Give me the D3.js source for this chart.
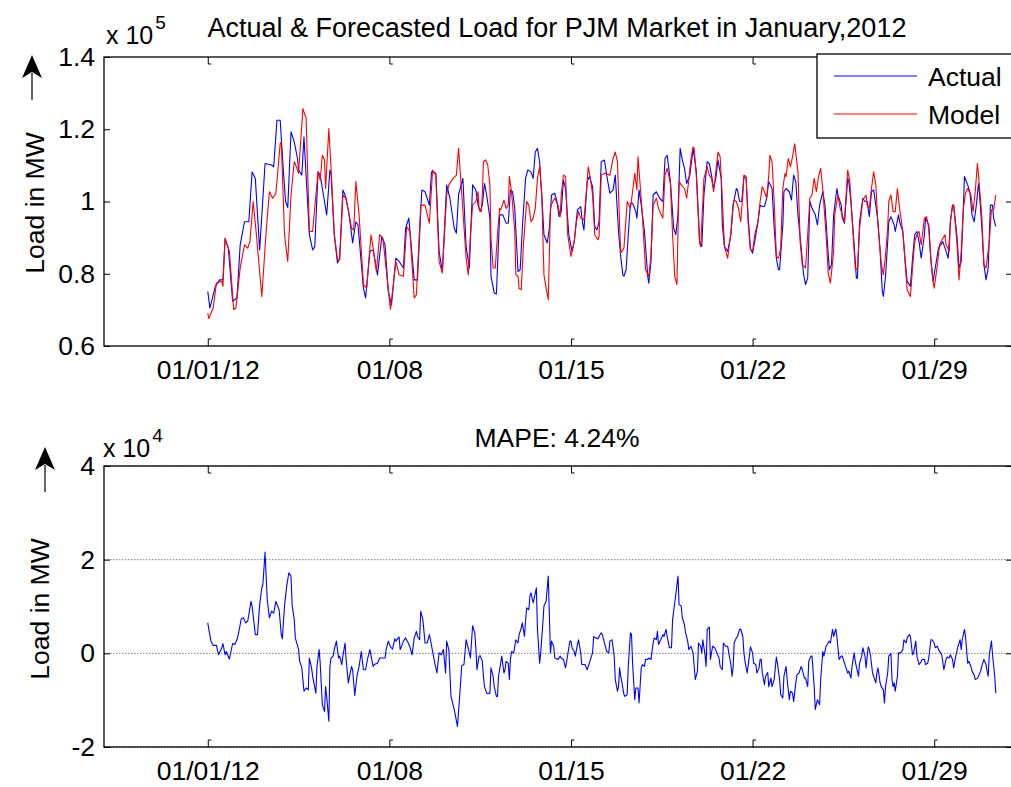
<!DOCTYPE html>
<html>
<head>
<meta charset="utf-8">
<script src="https://cdn.jsdelivr.net/npm/d3@7"></script>
<style>
  body { margin: 0; background: #fff; }
  svg { display: block; }
  text { font-family: Arial, "Liberation Sans", Helvetica, sans-serif; fill: #000; }
</style>
</head>
<body>
<svg id="chart" width="1011" height="787"></svg>
<script>
// Hourly PJM load, January 2012. Hours are counted from 2012-01-01 00:00.
// Loads are in thousands of MW.
const actualHour = [0,2,7,11,14,16,19,23,27,30,34,38,41,44,48,53,59,61,64,67,70,72,74,77,80,83,84,87,89,94,97,99,102,104,107,110,113,114,117,120,122,125,127,130,132,134,137,139,144,146,150,153,157,161,164,167,170,174,177,181,183,186,191,194,198,201,205,207,211,214,217,221,224,228,230,232,236,239,242,245,248,250,252,254,256,258,261,262,265,267,268,270,273,276,278,280,282,284,287,289,291,294,296,299,301,303,305,307,309,311,314,316,318,321,323,325,327,329,331,334,337,339,342,345,347,348,351,353,356,358,360,362,364,367,369,372,375,377,380,382,384,385,387,389,391,393,396,397,399,401,404,407,408,410,412,415,418,421,423,425,428,431,433,435,437,439,441,443,446,449,452,455,457,459,462,464,466,468,470,472,475,476,478,481,484,486,489,490,492,494,496,498,500,502,504,506,509,511,513,515,517,519,522,524,526,528,529,532,533,535,538,540,542,544,546,549,551,553,555,557,559,562,564,566,569,571,573,575,577,579,582,583,586,587,589,592,593,595,598,600,601,603,606,608,610,612,614,616,618,620,622,624,625,627,629,630,632,635,636,639,640,643,645,647,650,652,654,656,658,660,663,664,667,669,671,673,676,678,680,683,685,687,689,690,693,695,697,699,700,703,705,707,709,711,713,714,716,718,720,722,724,726,727,729];
const actualLoad = [75.1,70.5,76.5,78.3,78.3,89.7,87.1,72.4,73.3,88.0,94.4,94.4,108.2,106.4,86.6,110.5,110.1,109.6,122.5,122.5,108.2,100.0,98.3,119.3,116.5,111.9,108.7,107.3,117.9,90.8,86.6,87.5,108.2,107.3,101.8,96.3,108.7,107.8,90.8,83.0,84.3,103.2,101.8,97.7,93.5,88.5,94.4,93.5,76.0,73.3,86.2,86.6,79.7,90.3,88.0,75.1,71.4,84.3,83.4,81.6,92.6,95.4,78.3,78.3,103.2,102.7,99.0,108.2,107.8,86.2,80.6,104.6,100.9,92.6,91.2,101.8,106.4,87.5,81.6,104.6,103.2,99.0,97.2,99.0,105.0,101.8,95.4,79.3,74.7,74.4,81.6,96.3,96.3,94.0,94.0,103.2,102.7,98.1,80.6,81.1,92.6,106.4,108.7,108.2,106.4,113.7,114.7,111.0,101.8,90.8,88.5,92.6,101.8,102.3,100.0,95.8,97.2,105.9,103.6,90.8,86.2,88.9,97.7,98.6,93.5,92.1,105.5,106.9,104.1,93.1,92.1,94.4,111.0,111.5,107.3,102.3,103.2,107.3,91.7,84.8,79.7,79.3,81.1,90.8,99.5,99.5,97.2,95.4,103.2,99.0,91.7,79.3,77.4,83.4,101.8,102.7,100.9,100.0,111.9,112.8,105.5,92.6,90.8,96.3,114.7,111.5,109.2,105.0,107.3,114.7,108.2,88.9,87.5,101.8,111.0,110.5,107.3,103.6,106.4,111.5,106.4,93.5,87.5,86.2,90.8,99.0,103.6,103.2,100.0,100.0,106.9,106.4,95.4,87.1,85.7,88.9,94.4,99.0,98.6,98.6,100.9,105.5,103.6,92.6,84.3,81.1,81.1,93.5,102.7,103.6,102.7,100.4,107.3,105.5,96.3,87.1,80.2,77.0,78.8,100.0,98.1,96.3,93.5,99.0,102.7,99.0,89.8,81.1,82.5,96.3,103.6,101.8,99.0,95.4,94.0,106.4,105.5,100.0,88.0,78.8,78.8,94.4,100.9,100.0,100.0,95.8,102.7,103.2,99.0,94.4,86.2,75.1,73.7,79.3,88.9,94.4,95.8,93.5,91.7,96.3,94.4,91.7,84.3,77.9,76.5,84.3,90.8,91.7,88.9,84.3,90.8,95.4,93.5,83.9,77.9,81.6,87.1,88.0,88.9,86.2,84.3,94.4,99.0,99.0,90.8,81.6,83.4,98.1,106.9,104.6,102.7,96.3,94.4,99.0,105.0,101.8,93.5,82.5,78.3,81.6,99.0,99.0,95.4,93.1];

const modelHour = [0,1,5,8,13,14,16,20,24,26,30,34,37,39,42,45,50,54,57,60,63,67,68,71,74,77,80,82,84,88,91,94,97,102,104,106,108,109,112,114,117,120,122,125,128,133,135,137,140,144,147,151,153,156,159,162,169,174,177,181,184,187,191,193,197,201,205,208,211,214,217,221,223,227,230,232,234,239,241,243,245,248,250,251,253,254,255,257,259,261,262,264,266,268,270,271,274,276,278,279,281,284,285,287,288,290,292,295,297,299,301,303,305,307,309,311,313,315,317,319,321,324,326,327,329,331,333,336,339,341,343,345,348,350,352,354,356,358,361,362,364,367,372,375,377,379,381,382,385,388,391,393,395,397,398,400,402,405,408,410,412,415,417,419,421,423,425,428,430,432,434,436,438,441,443,445,447,449,450,452,455,456,459,462,464,466,468,470,472,474,476,478,481,484,486,487,489,491,493,495,496,498,500,502,504,506,509,511,513,515,517,519,520,522,524,526,528,530,532,534,535,537,539,541,543,546,548,550,553,555,557,559,561,563,565,567,569,572,574,576,579,580,583,585,587,589,592,594,596,599,601,603,606,609,610,612,614,616,618,620,623,625,627,629,630,632,634,636,638,640,643,645,647,650,652,654,656,658,660,663,665,667,669,671,672,675,677,680,682,683,686,687,689,690,693,695,697,699,701,703,706,708,710,712,713,716,718,720,723,725,727,729];
const modelLoad = [69.1,67.6,70.5,77.4,77.9,76.5,89.8,86.2,70.1,70.5,81.6,88.0,87.1,88.9,100.0,90.8,73.7,91.7,102.7,100.9,102.3,116.0,116.5,90.8,83.4,101.8,111.0,109.6,107.8,125.7,123.0,91.7,91.7,108.2,105.9,112.8,111.5,103.6,120.2,109.6,91.2,83.9,83.9,101.8,100.9,92.6,92.1,105.5,96.3,77.0,76.0,90.8,87.1,80.6,90.8,89.8,70.1,83.4,79.7,79.3,93.1,91.7,73.3,74.2,99.0,99.0,94.0,108.7,107.3,83.4,80.2,101.8,104.6,106.4,107.3,114.7,106.4,84.3,79.7,90.8,99.0,100.0,102.7,98.1,97.2,101.8,111.0,111.5,110.1,104.6,89.8,81.6,81.6,90.8,98.1,97.7,100.4,98.1,99.0,106.9,102.7,91.7,79.7,79.3,76.0,75.6,88.0,100.0,99.0,94.4,95.4,98.1,106.4,109.6,101.8,79.7,76.0,72.8,98.1,100.0,100.9,99.0,95.8,101.8,107.3,106.9,90.8,84.8,88.9,94.4,97.2,95.4,94.9,101.8,109.6,106.4,101.8,90.8,89.4,90.3,107.3,107.8,107.3,111.9,113.7,111.0,93.5,85.7,87.1,100.0,98.1,102.7,107.8,103.2,112.4,104.6,96.3,81.1,79.3,85.2,99.0,100.9,98.1,96.7,95.4,107.3,109.2,105.0,90.8,79.3,77.0,105.5,104.6,103.6,100.9,105.9,111.9,115.1,114.7,106.9,88.5,87.5,106.4,109.6,107.3,106.4,102.7,108.2,113.7,112.4,100.9,87.5,84.3,91.7,99.0,100.4,100.0,98.1,94.4,101.8,107.3,106.9,93.5,86.6,86.2,90.8,94.4,100.0,104.1,102.7,100.9,107.3,112.8,111.0,100.0,84.8,84.3,87.1,103.6,107.8,106.9,111.9,109.6,112.4,116.0,108.2,88.9,82.5,81.6,90.8,100.9,101.8,106.4,102.7,106.9,109.2,103.2,90.8,80.2,77.4,86.2,96.3,101.8,98.1,96.3,94.4,108.7,105.5,95.4,81.6,81.1,92.6,100.4,101.8,99.0,98.1,103.6,108.2,104.6,93.5,83.0,79.7,85.2,92.6,100.0,101.8,97.2,97.2,103.6,98.1,91.7,83.4,75.6,73.7,81.6,88.9,90.8,91.7,88.0,95.4,95.8,92.6,83.4,77.9,76.0,82.5,88.0,89.8,90.8,88.0,86.2,94.4,99.0,99.0,88.9,78.3,86.2,98.1,102.3,103.6,101.8,97.2,102.7,110.5,107.3,96.3,82.5,81.6,88.9,97.7,97.7,101.8];

// Forecast error (actual minus model), thousands of MW
const errorHour = [0,1,3,5,8,10,13,14,16,17,20,23,25,27,29,31,33,35,37,40,41,44,46,48,50,51,53,55,57,59,61,63,66,68,69,71,73,75,77,78,80,81,84,85,87,89,91,93,94,96,97,100,101,103,104,106,108,109,110,112,113,114,116,117,119,121,122,124,125,127,128,130,133,134,136,138,140,142,144,146,148,150,152,153,154,157,159,161,164,165,167,169,171,173,174,177,178,181,183,185,187,189,191,193,194,196,197,199,201,203,205,206,208,210,212,214,216,218,220,221,223,225,228,231,233,235,237,239,242,243,245,247,248,249,251,252,254,255,256,258,259,261,262,264,265,267,268,269,271,272,274,275,276,278,279,280,281,283,285,287,288,290,291,293,294,295,297,298,299,301,302,304,305,307,308,310,311,313,315,316,317,318,320,321,324,326,327,329,331,333,335,336,337,339,340,342,343,345,346,348,349,351,353,355,356,357,359,361,362,364,365,367,369,371,372,374,376,377,379,380,381,382,383,385,386,388,389,391,392,393,395,396,398,399,401,402,404,405,407,408,410,412,413,415,416,417,419,421,422,424,425,427,429,430,432,433,435,436,438,439,441,442,444,445,447,449,450,451,453,454,456,457,458,460,461,462,464,465,467,469,471,473,474,476,477,479,481,482,484,485,486,487,489,490,492,493,495,496,497,499,500,501,502,504,505,507,508,510,511,512,513,515,516,518,519,521,522,524,526,527,529,530,532,533,535,536,538,539,541,542,544,545,547,549,550,552,553,555,556,558,559,561,562,564,566,567,569,570,572,573,575,576,578,579,581,582,584,586,587,589,590,592,593,595,596,598,599,600,602,603,605,606,608,609,611,612,613,615,616,618,619,620,622,623,625,626,627,629,630,632,633,634,635,636,638,639,641,643,644,646,647,649,650,652,653,655,656,658,659,661,663,664,666,667,669,670,672,673,675,676,678,679,681,683,684,686,687,689,690,692,693,694,696,697,698,700,701,703,704,706,707,709,710,712,713,715,716,718,720,721,722,723,725,726,728,729];
const errorLoad = [6.5,5.1,2.6,1.7,1.7,-0.3,1.2,2.1,-0.3,0.4,-1.2,2.1,1.9,2.9,4.9,7.4,7.6,6.5,6.9,11.1,10.1,4.0,4.0,10.4,14.0,14.7,21.6,11.5,7.6,9.0,8.6,11.1,9.3,4.0,3.1,10.1,14.3,17.2,16.5,10.4,7.2,3.3,0.8,-1.7,-3.1,-8.1,-7.4,-7.8,-1.0,-3.1,-4.9,-8.5,-2.8,0.8,-2.1,-11.0,-12.4,-7.1,-9.2,-14.5,-2.8,-1.0,-0.6,0.8,2.6,-1.0,-0.6,-2.4,-0.6,2.2,-1.3,-6.3,-2.8,-3.5,-9.0,-4.9,-2.8,0.4,-3.5,-3.5,-1.0,0.8,-1.7,-2.8,-2.4,-2.1,-1.0,-1.0,-1.0,0.8,2.6,1.4,0.9,3.1,2.6,3.5,0.8,2.6,3.3,2.4,1.4,-0.3,3.3,4.7,3.6,2.9,9.0,7.2,2.2,2.2,4.0,2.9,0.4,-2.1,-4.2,0.1,-0.3,0.8,-4.2,2.6,0.8,-9.2,-12.0,-15.6,-9.2,-2.6,-2.4,2.9,0.1,-1.0,5.9,4.4,1.2,-3.5,-0.6,-0.5,-1.7,-4.9,-7.1,-8.5,-8.6,-8.5,-3.1,-4.9,-7.1,-9.2,-9.2,-4.9,-2.1,-0.6,-4.2,-3.5,-1.7,-2.1,-5.6,-1.3,0.4,0.1,2.9,2.2,4.0,5.4,6.5,3.6,6.9,9.7,9.3,12.2,12.9,10.8,11.8,14.0,5.1,-2.1,0.1,6.5,10.1,11.1,16.5,8.3,0.1,2.6,1.5,-1.0,-1.3,-0.6,-1.0,-1.3,-3.1,-0.3,2.6,2.6,1.2,0.4,-0.6,1.9,2.9,0.1,-2.4,-2.4,-2.4,-3.5,-2.1,-0.6,0.1,3.6,3.3,3.1,3.6,4.4,4.0,2.2,0.4,0.1,2.6,2.9,-0.6,-5.6,-8.1,-7.1,-3.1,-4.9,-6.0,-8.8,-9.2,-8.8,-2.8,4.4,4.0,-2.1,-9.9,-7.4,-7.4,-10.6,-3.1,-2.4,-2.8,-1.3,-1.3,-1.0,-1.3,2.2,3.3,2.9,4.7,1.9,2.9,4.0,3.6,5.1,3.6,1.2,1.2,7.2,10.8,12.6,16.5,10.4,10.1,7.6,6.1,4.4,2.6,0.8,1.5,0.1,-2.8,-5.6,-3.8,2.2,1.5,0.1,2.9,-0.3,-2.8,5.1,5.6,-1.3,1.5,1.2,0.1,-1.0,-2.8,-3.5,2.2,1.5,1.5,0.1,-2.4,-4.9,-3.1,2.2,3.3,3.6,5.1,5.2,3.6,0.1,-1.7,-4.2,-2.4,-0.6,1.4,0.1,-2.1,-2.4,-4.2,-3.1,-1.3,-1.3,-4.2,-6.7,-4.9,-4.1,-7.1,-5.3,-7.1,-5.6,-0.8,-2.1,-5.6,-8.8,-9.5,-4.9,-2.8,-5.6,-9.9,-8.1,-8.5,-10.3,-6.3,-4.6,-4.2,-2.8,-3.5,-5.3,-5.3,-7.1,-1.7,-0.6,-0.6,-7.1,-12.0,-9.9,-11.0,-5.6,0.4,-0.6,1.5,1.9,2.6,2.2,5.1,3.6,5.2,3.6,-1.3,-0.6,-0.6,-2.1,-2.8,-4.2,-3.8,-5.3,-2.8,0.1,-1.7,-2.8,-4.9,-2.1,-0.6,1.2,-0.6,-3.1,1.4,0.8,-0.3,-4.2,-4.9,-6.3,-4.2,-3.1,-6.3,-7.1,-7.8,-10.6,-7.1,-4.2,-0.6,0.0,-5.6,-7.1,-6.3,-8.1,-4.9,0.1,0.1,0.8,2.9,2.2,3.3,4.0,3.6,-0.3,0.1,2.6,-0.6,-2.4,-2.1,-1.3,-1.3,-2.4,-2.1,-1.0,2.9,2.9,2.2,1.2,1.5,0.8,0.1,-0.3,-3.5,-1.3,-0.8,-1.0,-0.3,-1.3,-3.1,-0.6,0.4,1.5,2.9,0.8,2.9,5.1,3.6,-2.1,-1.7,-2.8,-3.8,-4.6,-5.6,-5.3,-4.9,-3.8,-2.8,-1.3,-2.4,-3.8,-4.9,-0.3,2.6,-0.3,-4.9,-8.5];

// Axis ticks
const dateTicks = ["2012-01-01", "2012-01-08", "2012-01-15", "2012-01-22", "2012-01-29"];
const dateTickLabels = ["01/01/12", "01/08", "01/15", "01/22", "01/29"];
const loadTicks = [60, 80, 100, 120, 140];
const loadTickLabels = ["0.6", "0.8", "1", "1.2", "1.4"];
const errorTicks = [-20, 0, 20, 40];
const errorTickLabels = ["-2", "0", "2", "4"];
const seriesNames = ["Actual", "Model"];
const seriesColors = ["#0000ff", "#ff0000"];

const svg = d3.select("#chart");
svg.append("rect").attr("width", 1011).attr("height", 787).attr("fill", "#fff");

const start = Date.UTC(2012, 0, 1);
const toDate = h => new Date(start + h * 3600e3);
const tickDates = dateTicks.map(s => new Date(s + "T00:00:00Z"));

const x = d3.scaleUtc()
  .domain([new Date("2011-12-28T00:00:00Z"), new Date("2012-02-01T00:00:00Z")])
  .range([104, 1012]);

const yTop = d3.scaleLinear().domain([60, 140]).range([346, 57]);
const yBot = d3.scaleLinear().domain([-20, 40]).range([747, 466]);

const FS = 26.5;

function panel(id, y, yTicks, yLabels, grid) {
  const [x0, x1] = x.range();
  const [yb, yt] = y.range();
  const g = svg.append("g");

  svg.append("clipPath").attr("id", id)
    .append("rect").attr("x", x0).attr("y", yt).attr("width", x1 - x0).attr("height", yb - yt);

  if (grid) {
    g.append("g").selectAll("line").data(yTicks).join("line")
      .attr("x1", x0).attr("x2", x1)
      .attr("y1", d => y(d)).attr("y2", d => y(d))
      .attr("stroke", "#7f7f7f").attr("stroke-width", 1)
      .attr("stroke-dasharray", "1.5,1.5");
  }

  // bottom axis with labels
  const ab = g.append("g").attr("transform", `translate(0,${yb})`)
    .call(d3.axisBottom(x).tickValues(tickDates)
      .tickFormat((d, i) => dateTickLabels[i])
      .tickSizeInner(-7).tickSizeOuter(0).tickPadding(14));
  // top axis, ticks only
  const at = g.append("g").attr("transform", `translate(0,${yt})`)
    .call(d3.axisTop(x).tickValues(tickDates).tickFormat("")
      .tickSizeInner(-7).tickSizeOuter(0));
  // left axis with labels
  const al = g.append("g").attr("transform", `translate(${x0},0)`)
    .call(d3.axisLeft(y).tickValues(yTicks)
      .tickFormat((d, i) => yLabels[i])
      .tickSizeInner(-6).tickSizeOuter(0).tickPadding(9));
  // right axis, ticks only
  const ar = g.append("g").attr("transform", `translate(${x1},0)`)
    .call(d3.axisRight(y).tickValues(yTicks).tickFormat("")
      .tickSizeInner(-6).tickSizeOuter(0));

  [ab, at, al, ar].forEach(a => {
    a.select(".domain").remove();
    a.selectAll("line").attr("stroke", "#000").attr("stroke-width", 1);
    a.selectAll("text").attr("font-size", FS)
      .attr("font-family", 'Arial, "Liberation Sans", sans-serif').attr("fill", "#000");
  });

  // short serif at the inner end of each date tick
  ab.selectAll(".tick").append("line")
    .attr("x1", 0).attr("x2", 3).attr("y1", -7).attr("y2", -7)
    .attr("stroke", "#000").attr("stroke-width", 1);
  at.selectAll(".tick").append("line")
    .attr("x1", 0).attr("x2", 3).attr("y1", 7).attr("y2", 7)
    .attr("stroke", "#000").attr("stroke-width", 1);

  g.append("rect").attr("x", x0).attr("y", yt)
    .attr("width", x1 - x0).attr("height", yb - yt)
    .attr("fill", "none").attr("stroke", "#000").attr("stroke-width", 1.3);

  return g;
}

function drawLine(g, clipId, y, hours, values, color) {
  const pts = hours.map((h, i) => [toDate(h), values[i]]);
  g.append("path").datum(pts)
    .attr("clip-path", `url(#${clipId})`)
    .attr("fill", "none").attr("stroke", color).attr("stroke-width", 1.1)
    .attr("stroke-linejoin", "round")
    .attr("d", d3.line().x(d => x(d[0])).y(d => y(d[1])));
}

// ---- Top panel: actual vs model load
const gTop = panel("clipTop", yTop, loadTicks, loadTickLabels, false);
drawLine(gTop, "clipTop", yTop, actualHour, actualLoad, seriesColors[0]);
drawLine(gTop, "clipTop", yTop, modelHour, modelLoad, seriesColors[1]);

// ---- Bottom panel: forecast error
const gBot = panel("clipBot", yBot, errorTicks, errorTickLabels, true);
drawLine(gBot, "clipBot", yBot, errorHour, errorLoad, seriesColors[0]);

// titles
svg.append("text").attr("x", 557).attr("y", 37).attr("text-anchor", "middle")
  .attr("font-size", 27).text("Actual & Forecasted Load for PJM Market in January,2012");
svg.append("text").attr("x", 557).attr("y", 447).attr("text-anchor", "middle")
  .attr("font-size", FS).text("MAPE: 4.24%");

// axis exponent labels
function exponent(xp, yp, power) {
  const t = svg.append("text").attr("x", xp).attr("y", yp).attr("font-size", 25);
  t.append("tspan").text("x 10");
  t.append("tspan").attr("dx", 2).attr("dy", -15).attr("font-size", 19).text(power);
}
exponent(106, 44, "5");
exponent(103, 457, "4");

// y-axis labels with upward arrows
function yLabel(cx, cy, ax, tipY) {
  svg.append("text")
    .attr("transform", `translate(${cx},${cy}) rotate(-90)`)
    .attr("text-anchor", "middle").attr("dominant-baseline", "central")
    .attr("font-size", FS).text("Load in MW");
  svg.append("line").attr("x1", ax).attr("x2", ax)
    .attr("y1", tipY + 18).attr("y2", tipY + 45)
    .attr("stroke", "#000").attr("stroke-width", 1.2);
  svg.append("path")
    .attr("d", `M${ax},${tipY} L${ax - 10},${tipY + 23} L${ax},${tipY + 17} L${ax + 10},${tipY + 23} Z`)
    .attr("fill", "#000");
}
yLabel(35, 203, 32, 55);
yLabel(40, 609, 45, 447);

// legend
const lg = svg.append("g");
lg.append("rect").attr("x", 817).attr("y", 54).attr("width", 230).attr("height", 84)
  .attr("fill", "#fff").attr("stroke", "#000").attr("stroke-width", 1.3);
seriesNames.forEach((name, i) => {
  const yy = 76 + i * 38;
  lg.append("line").attr("x1", 834).attr("x2", 917).attr("y1", yy).attr("y2", yy)
    .attr("stroke", seriesColors[i]).attr("stroke-width", 1);
  lg.append("text").attr("x", 928).attr("y", yy + 10).attr("font-size", FS).text(name);
});
</script>
</body>
</html>
